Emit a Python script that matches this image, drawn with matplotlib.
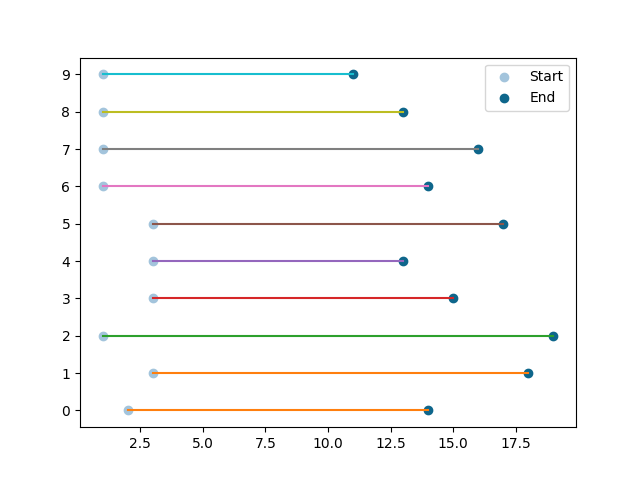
import matplotlib
matplotlib.use('Agg')
import matplotlib.pyplot as plt
import numpy as np

rows = np.arange(10)
start = [2, 3, 1, 3, 3, 3, 1, 1, 1, 1]
end = [14, 18, 19, 15, 13, 17, 14, 16, 13, 11]
line_colors = ['tab:orange', 'tab:orange', 'tab:green', 'tab:red', 'tab:purple',
               'tab:brown', 'tab:pink', 'tab:gray', 'tab:olive', 'tab:cyan']

fig, ax = plt.subplots(figsize=(6.4, 4.8), dpi=100)
ax.scatter(start, rows, color='#a3c4dc', label='Start')
ax.scatter(end, rows, color='#0e668b', label='End')
for i in rows:
    ax.plot([start[i], end[i]], [i, i], color=line_colors[i])
ax.set_yticks(rows)
ax.legend(loc='upper right')
fig.savefig('out.png')
